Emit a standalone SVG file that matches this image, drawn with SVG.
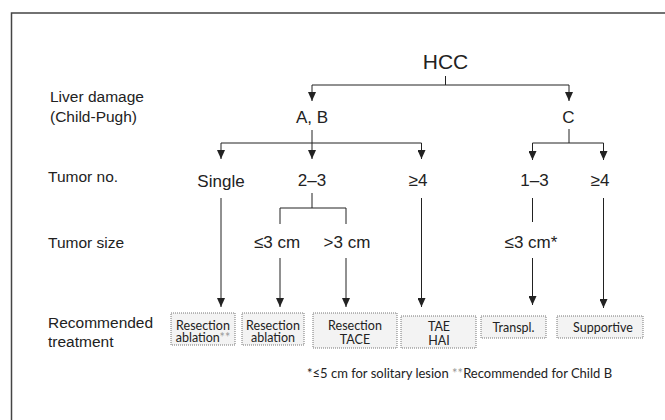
<svg xmlns="http://www.w3.org/2000/svg" width="665" height="420" viewBox="0 0 665 420">
<defs>
<marker id="ah" viewBox="0 0 9 8" refX="9" refY="4" markerWidth="9" markerHeight="8" markerUnits="userSpaceOnUse" orient="auto">
<path d="M0,0 L9,4 L0,8 Z" fill="#222"/>
</marker>
</defs>
<style>
.lbl{font-family:"Liberation Sans",Arial,sans-serif;fill:#222}
.side{font-size:15.5px}
.nd{font-size:17px;text-anchor:middle}
.bx{fill:#f3f3f3;stroke:#777;stroke-width:1;stroke-dasharray:1 1}
.bt{font-family:Lato,"Open Sans",sans-serif;font-size:12.5px;fill:#222;text-anchor:middle}
.fn{font-family:Lato,"Open Sans",sans-serif;font-size:13px;fill:#222;text-anchor:start}
.ln{stroke:#222;stroke-width:1;fill:none}
.ar{stroke:#222;stroke-width:1;fill:none;marker-end:url(#ah)}
.lt{fill:#999}
</style>
<rect width="665" height="420" fill="#fff"/>
<path d="M11.5,420 V13 H665" fill="none" stroke="#444" stroke-width="1.5"/>
<g id="side-labels" class="lbl side">
<text x="50" y="102">Liver damage</text>
<text x="50" y="122">(Child-Pugh)</text>
<text x="48" y="182">Tumor no.</text>
<text x="48" y="248">Tumor size</text>
<text x="48" y="328">Recommended</text>
<text x="48" y="347">treatment</text>
</g>
<g id="hcc"><text class="lbl" x="445.5" y="69" font-size="21" text-anchor="middle">HCC</text></g>
<g id="ab"><text class="lbl nd" x="312" y="123">A, B</text></g>
<g id="c"><text class="lbl nd" x="568.5" y="123">C</text></g>
<g id="single"><text class="lbl nd" x="221" y="187">Single</text></g>
<g id="n23"><text class="lbl nd" x="312" y="186">2–3</text></g>
<g id="n4ab"><text class="lbl nd" x="418" y="186">≥4</text></g>
<g id="n13"><text class="lbl nd" x="534.5" y="186">1–3</text></g>
<g id="n4c"><text class="lbl nd" x="600" y="186">≥4</text></g>
<g id="s3a"><text class="lbl nd" x="277" y="248">≤3 cm</text></g>
<g id="s3b"><text class="lbl nd" x="347" y="248">&gt;3 cm</text></g>
<g id="s3c"><text class="lbl nd" x="531" y="248">≤3 cm*</text></g>
<g id="connectors">
<path class="ln" d="M445.5,76 V85 M312,85 H569"/>
<path class="ar" d="M312,85 V101"/>
<path class="ar" d="M569,85 V101"/>
<path class="ln" d="M312,130 V143 M221,143 H421.5"/>
<path class="ar" d="M221,143 V159"/>
<path class="ar" d="M312,143 V159"/>
<path class="ar" d="M421.5,143 V159"/>
<path class="ln" d="M569,129 V143 M532.5,143 H603.5"/>
<path class="ar" d="M532.5,143 V160"/>
<path class="ar" d="M603.5,143 V160"/>
<path class="ar" d="M221,198 V307"/>
<path class="ln" d="M312,193 V208 M280,224 V208 H346 V224"/>
<path class="ar" d="M280,258 V307"/>
<path class="ar" d="M346,258 V307"/>
<path class="ar" d="M421.5,198 V307"/>
<path class="ln" d="M532.5,198 V222"/>
<path class="ar" d="M532.5,258 V305"/>
<path class="ar" d="M603.5,198 V308"/>
</g>
<g id="t1"><rect class="bx" x="171" y="313" width="64" height="32"/><text class="bt" x="203" y="329.5">Resection</text><text class="bt" x="203" y="342">ablation<tspan class="lt">**</tspan></text></g>
<g id="t2"><rect class="bx" x="242" y="313" width="62" height="32"/><text class="bt" x="273" y="329.5">Resection</text><text class="bt" x="273" y="342">ablation</text></g>
<g id="t3"><rect class="bx" x="313" y="313" width="84" height="35"/><text class="bt" x="355" y="330">Resection</text><text class="bt" x="355" y="343.5">TACE</text></g>
<g id="t4"><rect class="bx" x="401" y="316" width="75" height="32"/><text class="bt" x="439" y="331">TAE</text><text class="bt" x="439" y="344.5">HAI</text></g>
<g id="t5"><rect class="bx" x="481" y="316" width="65" height="22"/><text class="bt" x="513.5" y="331.5">Transpl.</text></g>
<g id="t6"><rect class="bx" x="557" y="316" width="86" height="22"/><text class="bt" x="603" y="331.5">Supportive</text></g>
<g id="footnote"><text class="fn" x="307" y="378">*≤5 cm for solitary lesion <tspan class="lt">**</tspan>Recommended for Child B</text></g>
</svg>
